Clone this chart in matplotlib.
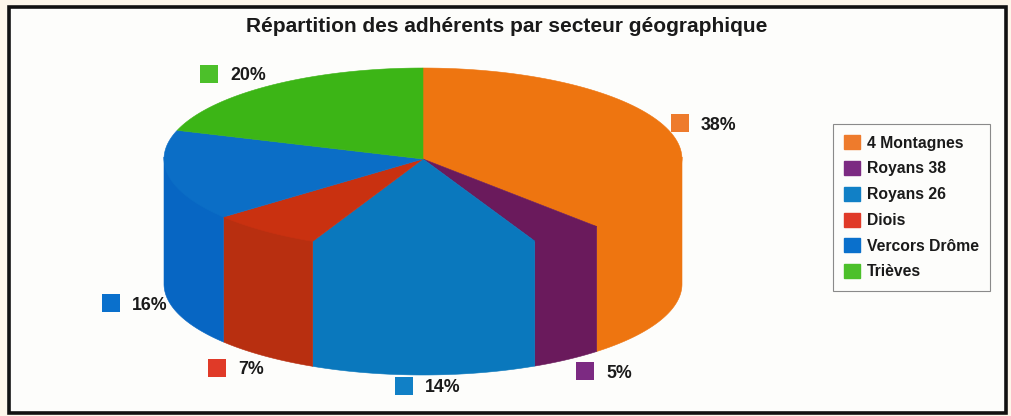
import numpy as np
import matplotlib
matplotlib.use('Agg')
import matplotlib.pyplot as plt
from matplotlib.patches import Patch, Polygon, Rectangle

# parts (percent)
secteurs = ['4 Montagnes', 'Royans 38', 'Royans 26', 'Diois', 'Vercors Drôme', 'Trièves']
valeurs = [38.3, 4.6, 14.1, 7.0, 16.1, 19.9]

couleurs_dessus = ['#ee7510', '#6a1a5c', '#0a78bd', '#c93110', '#0b6ec6', '#3cb516']
couleurs_cote = ['#ee7510', '#6a1a5c', '#0a78bd', '#b82f10', '#0766c3', '#3cb516']
couleurs_legende = ['#ee7b2c', '#7c2a82', '#1180c6', '#e03a28', '#0a70cc', '#4cc02a']

# position of the small labels around the pie, in pixels
pos_etiquettes = [(680, 123), (585, 371), (404, 386), (217, 368), (111, 303), (209, 74)]

# pie geometry, in pixels
cx, cy = 423, 159
rx, ry = 259, 91
profondeur = 125


def point(angle, dy=0):
    # angle in degrees, clockwise from the top
    a = np.radians(angle)
    return cx + rx * np.sin(a), cy + ry * -np.cos(a) + dy


def arc(a1, a2, dy=0):
    angles = np.linspace(a1, a2, 80)
    return [point(a, dy) for a in angles]


fig = plt.figure(figsize=(10.11, 4.16), dpi=100, facecolor='#fdf6ea')
ax = fig.add_axes([0, 0, 1, 1])
ax.set_xlim(0, 1011)
ax.set_ylim(416, 0)
ax.axis('off')

plt.rcParams['font.family'] = ['Liberation Sans', 'DejaVu Sans']

# frame
ax.add_patch(Rectangle((8.5, 6.5), 997, 406, facecolor='#fdfdfb', edgecolor='#111111', linewidth=2.6))

bornes = np.concatenate([[0], np.cumsum(valeurs)]) * 3.6

# side walls first, only the front half of the ellipse shows
for i in range(len(valeurs)):
    a1 = max(bornes[i], 90)
    a2 = min(bornes[i + 1], 270)
    if a2 <= a1:
        continue
    poly = arc(a1, a2, -2) + arc(a2, a1, profondeur)
    ax.add_patch(Polygon(poly, closed=True, facecolor=couleurs_cote[i], edgecolor=couleurs_cote[i], linewidth=0.4))

# top wedges over the walls, the thin overlap hides the seam
for i in range(len(valeurs)):
    poly = [(cx, cy)] + arc(bornes[i], bornes[i + 1])
    ax.add_patch(Polygon(poly, closed=True, facecolor=couleurs_dessus[i], edgecolor=couleurs_dessus[i], linewidth=0.4))

ax.text(507, 27, 'Répartition des adhérents par secteur géographique', ha='center', va='center',
        fontsize=15.0, fontweight='bold', color='#1a1a1a')

# small squares and percentages
for i, (x, y) in enumerate(pos_etiquettes):
    ax.scatter([x], [y], marker='s', s=180, color=couleurs_legende[i], linewidths=0, zorder=5)
    ax.text(x + 21, y + 2, f'{valeurs[i]:.0f}%', ha='left', va='center', fontsize=12.8,
            fontweight='bold', color='#1a1a1a', zorder=5)

handles = [Patch(facecolor=c, edgecolor=c) for c in couleurs_legende]
leg = ax.legend(handles, secteurs, loc='upper left', bbox_to_anchor=(833, 124),
                bbox_transform=ax.transData, prop={'size': 11.3, 'weight': 'bold'},
                labelspacing=0.66, handlelength=1.0, handleheight=1.0, handletextpad=0.45,
                borderaxespad=0, borderpad=0.72, fancybox=False, framealpha=1,
                facecolor='#fdfdfb', edgecolor='#8a8a8a')
leg.get_frame().set_linewidth(0.8)
for t in leg.get_texts():
    t.set_color('#1a1a1a')

plt.savefig('out.png', dpi=100, facecolor=fig.get_facecolor())
